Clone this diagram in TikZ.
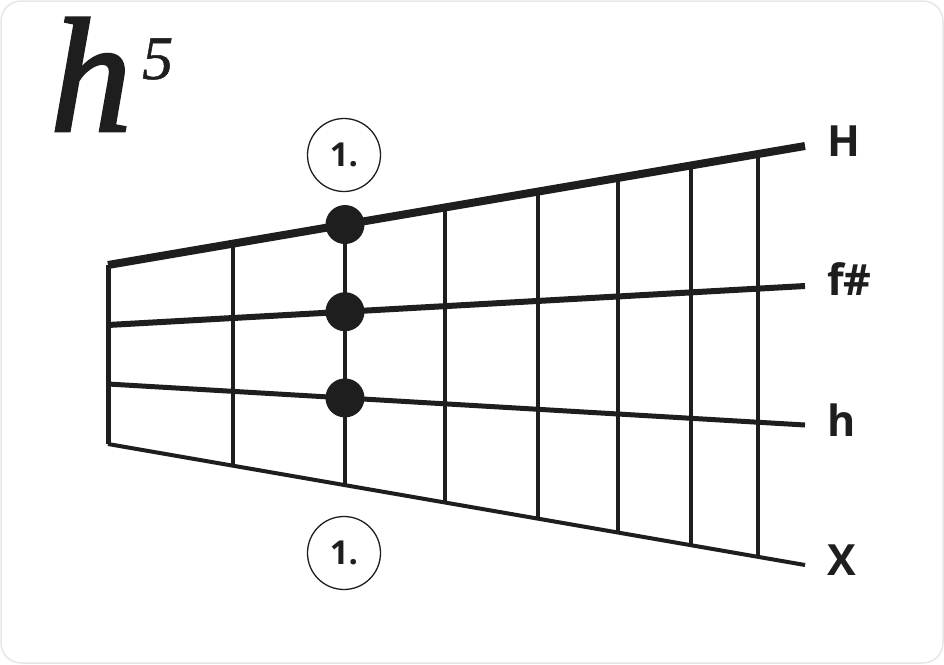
\documentclass[tikz,border=0pt]{standalone}
\usepackage{fontspec}
\setmainfont{Open Sans}
\newfontfamily\titlefont[ItalicFeatures={FakeBold=1.8}]{Liberation Serif}
\newfontfamily\supfont[ItalicFeatures={FakeBold=0.8}]{Liberation Serif}
\usetikzlibrary{calc}
\definecolor{ink}{HTML}{1E1E1E}
\definecolor{framegray}{HTML}{E6E6E6}
\tikzset{
  fretline/.style={draw=ink, line width=4pt},
  nutline/.style={draw=ink, line width=5pt},
  stringline/.style={draw=ink, line cap=butt},
  dotnode/.style={circle, fill=ink, minimum size=39pt, inner sep=0pt},
  fingernode/.style={circle, draw=ink, line width=1.3pt, minimum size=73pt, inner sep=0pt,
    font=\bfseries\fontsize{33}{33}\selectfont, text=ink},
  labelnode/.style={anchor=base west, inner sep=0pt, text=ink,
    font=\bfseries\fontsize{43}{43}\selectfont}
}
\begin{document}
\begin{tikzpicture}[x=1pt,y=-1pt]
\useasboundingbox (0,0) rectangle (944,664);
\draw[framegray, line width=1.5pt, fill=white, rounded corners=20pt] (1,1) rectangle (943,663);

% title
\node[anchor=base west, inner sep=0pt, text=ink, font=\titlefont\itshape\fontsize{163}{163}\selectfont] (title) at (50,131) {h};
\node[anchor=base west, inner sep=0pt, text=ink, font=\supfont\itshape\fontsize{62}{62}\selectfont] (titlesup) at (142,79) {5};

% string end points
\coordinate (H0) at (108,265); \coordinate (H1) at (805,146);
\coordinate (F0) at (108,325); \coordinate (F1) at (805,286);
\coordinate (B0) at (108,384); \coordinate (B1) at (805,425);
\coordinate (X0) at (108,444); \coordinate (X1) at (805,565);

% frets
\foreach \t [count=\i] in {0.1793,0.3400,0.4835,0.6169,0.7317,0.8364,0.9326} {
  \coordinate (ft\i) at ($(H0)!\t!(H1)$);
  \coordinate (fb\i) at ($(X0)!\t!(X1)$);
  \draw[fretline] (ft\i) -- (fb\i);
}
% nut
\draw[nutline] (H0) -- (X0);

% strings
\draw[stringline, line width=8pt] (H0) -- (H1);
\draw[stringline, line width=6pt] (F0) -- (F1);
\draw[stringline, line width=5pt] (B0) -- (B1);
\draw[stringline, line width=4pt] (X0) -- (X1);

% labels
\node[labelnode] (lH) at (827,156) {H};
\node[labelnode] (lF) at (827,295) {f\#};
\node[labelnode] (lB) at (827,436) {h};
\node[labelnode] (lX) at (827,575) {X};

% dots
\node[dotnode] (d1) at ($(H0)!0.34!(H1)$) {};
\node[dotnode] (d2) at ($(F0)!0.34!(F1)$) {};
\node[dotnode] (d3) at ($(B0)!0.34!(B1)$) {};

% finger circles
\node[fingernode] (fingertop) at (344,155) {1.};
\node[fingernode] (fingerbot) at (344,553) {1.};
\end{tikzpicture}
\end{document}
